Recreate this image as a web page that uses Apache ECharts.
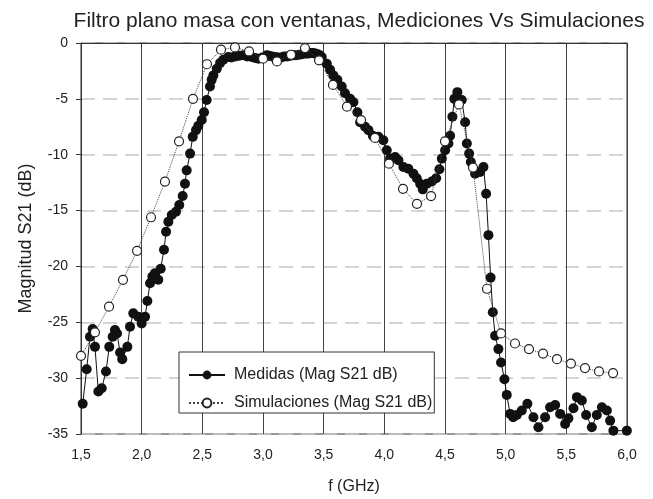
<!DOCTYPE html>
<html>
<head>
<meta charset="utf-8">
<script src="https://cdn.jsdelivr.net/npm/echarts@6/dist/echarts.min.js"></script>
<style>
  html, body { margin: 0; padding: 0; background: #fff; }
  #chart { width: 653px; height: 499px; }
</style>
</head>
<body>
<div id="chart"></div>
<script>
// medidas (filled markers), frequency in GHz
var medFreq = [1.514, 1.547, 1.574, 1.596, 1.615, 1.643, 1.671, 1.706, 1.733, 1.761,
  1.780, 1.797, 1.822, 1.840, 1.882, 1.904, 1.931, 1.972, 2.000, 2.028,
  2.047, 2.069, 2.088, 2.110, 2.137, 2.157, 2.184, 2.201, 2.220, 2.248,
  2.283, 2.310, 2.338, 2.357, 2.371, 2.399, 2.421, 2.448, 2.467, 2.495,
  2.514, 2.536, 2.563, 2.577, 2.591, 2.619, 2.646, 2.673, 2.714, 2.740,
  2.770, 2.800, 2.838, 2.870, 2.907, 2.935, 2.962, 2.995, 3.031, 3.050,
  3.075, 3.100, 3.124, 3.150, 3.174, 3.200, 3.223, 3.250, 3.272, 3.300,
  3.322, 3.350, 3.371, 3.393, 3.413, 3.432, 3.450, 3.468, 3.484, 3.526,
  3.553, 3.580, 3.613, 3.649, 3.676, 3.718, 3.745, 3.778, 3.800, 3.841,
  3.869, 3.905, 3.951, 3.992, 4.020, 4.047, 4.089, 4.116, 4.157, 4.198,
  4.240, 4.267, 4.295, 4.317, 4.350, 4.391, 4.427, 4.454, 4.474, 4.501,
  4.528, 4.542, 4.561, 4.577, 4.602, 4.638, 4.666, 4.680, 4.699, 4.713,
  4.748, 4.789, 4.817, 4.839, 4.858, 4.876, 4.894, 4.913, 4.940, 4.962,
  4.990, 5.009, 5.037, 5.062, 5.092, 5.133, 5.179, 5.229, 5.270, 5.325,
  5.366, 5.408, 5.449, 5.490, 5.517, 5.559, 5.587, 5.628, 5.663, 5.710,
  5.751, 5.793, 5.834, 5.861, 5.888, 5.999];
var medMag = [-32.3, -29.2, -26.3, -25.6, -27.2, -31.2, -30.9, -29.4, -27.2, -26.3,
  -25.7, -26.0, -27.7, -28.3, -27.2, -25.4, -24.2, -24.5, -25.1, -24.5,
  -23.1, -21.5, -20.9, -20.6, -21.2, -20.2, -18.5, -16.9, -16.0, -15.4,
  -15.1, -14.5, -13.7, -12.6, -11.4, -9.9, -8.4, -7.8, -7.4, -6.9,
  -6.2, -5.1, -3.9, -3.3, -2.9, -2.3, -1.8, -1.5, -1.25, -1.3,
  -1.2, -1.15, -1.1, -1.2, -1.25, -1.35, -1.4, -1.3, -1.1, -1.15,
  -1.2, -1.25, -1.3, -1.3, -1.2, -1.2, -1.15, -1.1, -1.1, -1.05,
  -1.0, -0.95, -0.95, -0.9, -0.9, -0.95, -1.0, -1.1, -1.25, -1.85,
  -2.4, -2.9, -3.3, -3.9, -4.5, -5.0, -5.3, -6.2, -7.1, -7.5,
  -7.8, -8.3, -8.4, -8.7, -9.6, -10.35, -10.2, -10.5, -11.1, -11.25,
  -11.7, -12.1, -12.6, -13.1, -12.6, -12.4, -12.1, -11.3, -10.35, -9.6,
  -9.0, -8.3, -6.6, -5.0, -4.4, -5.1, -7.1, -9.0, -9.9, -10.65,
  -11.7, -11.55, -11.1, -13.5, -17.2, -21.0, -24.1, -26.2, -27.4, -28.6,
  -30.1, -31.5, -33.2, -33.5, -33.3, -32.9, -32.3, -33.5, -34.4, -33.5,
  -32.6, -32.4, -33.2, -34.1, -33.6, -32.7, -31.7, -32.0, -33.3, -34.4,
  -33.3, -32.6, -32.9, -33.8, -34.7, -34.7];

// simulaciones (open markers)
var simFreq = [1.500, 1.615, 1.731, 1.846, 1.962, 2.077, 2.192, 2.308, 2.423, 2.538,
  2.654, 2.769, 2.885, 3.000, 3.115, 3.231, 3.346, 3.462, 3.577, 3.692,
  3.808, 3.923, 4.038, 4.154, 4.269, 4.385, 4.500, 4.615, 4.731, 4.846,
  4.962, 5.077, 5.192, 5.308, 5.423, 5.538, 5.654, 5.769, 5.885];
var simMag = [-28.0, -25.9, -23.6, -21.2, -18.6, -15.6, -12.4, -8.8, -5.0, -1.9,
  -0.6, -0.4, -0.75, -1.4, -1.65, -1.05, -0.45, -1.55, -3.75, -5.7,
  -6.9, -8.5, -10.8, -13.05, -14.4, -13.7, -8.8, -5.5, -11.15, -22.0,
  -26.0, -26.9, -27.4, -27.8, -28.3, -28.7, -29.1, -29.4, -29.55];

var seriesNames = ['Medidas (Mag S21 dB)', 'Simulaciones (Mag S21 dB)'];

function pairs(xs, ys) {
  return xs.map(function (x, i) { return [x, ys[i]] })
}

var font = 'Liberation Sans, Arial, sans-serif';
var chart = echarts.init(document.getElementById('chart'));

chart.setOption({
  animation: false,
  backgroundColor: '#fff',
  title: {
    text: 'Filtro plano masa con ventanas, Mediciones Vs Simulaciones',
    left: 354,
    textAlign: 'center',
    top: 6,
    textStyle: { fontFamily: font, fontSize: 21, fontWeight: 'normal', color: '#222' }
  },
  grid: {
    left: 81,
    right: 26,
    top: 43,
    bottom: 65,
    outerBoundsMode: 'none',
    show: true,
    borderColor: '#333',
    borderWidth: 1
  },
  legend: {
    orient: 'vertical',
    left: 179,
    top: 352,
    padding: [15, 2, 2, 9],
    itemGap: 12,
    itemWidth: 36,
    itemHeight: 11,
    backgroundColor: '#fff',
    borderColor: '#333',
    borderWidth: 1,
    borderRadius: 0,
    textStyle: { fontFamily: font, fontSize: 16, lineHeight: 16, color: '#222', padding: [0, 0, 0, 4] },
    data: seriesNames
  },
  xAxis: {
    type: 'value',
    min: 1.5,
    max: 6.0,
    interval: 0.5,
    name: 'f (GHz)',
    nameLocation: 'middle',
    nameGap: 45,
    nameTextStyle: { fontFamily: font, fontSize: 16, color: '#222' },
    axisLine: { lineStyle: { color: '#333' } },
    axisTick: { show: true, length: 5, lineStyle: { color: '#333' } },
    axisLabel: {
      fontFamily: font, fontSize: 14, color: '#222', margin: 14,
      formatter: function (v) { return v.toFixed(1).replace('.', ',') }
    },
    splitLine: { show: true, lineStyle: { color: '#444', width: 1 } }
  },
  yAxis: {
    type: 'value',
    min: -35,
    max: 0,
    interval: 5,
    name: 'Magnitud S21 (dB)',
    nameLocation: 'middle',
    nameGap: 46,
    nameTextStyle: { fontFamily: font, fontSize: 18, color: '#222' },
    axisLine: { show: true, lineStyle: { color: '#333' } },
    axisTick: { show: true, length: 5, lineStyle: { color: '#333' } },
    axisLabel: { fontFamily: font, fontSize: 14, color: '#222', margin: 13 },
    splitLine: { show: true, lineStyle: { color: '#c8c8c8', width: 1.5, type: [14, 8] } }
  },
  series: [{
    name: seriesNames[0],
    type: 'line',
    data: pairs(medFreq, medMag),
    symbol: 'circle',
    symbolSize: 10,
    itemStyle: { color: '#111', borderColor: '#111', borderWidth: 0 },
    lineStyle: { color: '#111', width: 1 },
    z: 3
  },
  {
    name: seriesNames[1],
    type: 'line',
    data: pairs(simFreq, simMag),
    symbol: 'circle',
    symbolSize: 9,
    itemStyle: { color: '#fff', borderColor: '#222', borderWidth: 1.2 },
    lineStyle: { color: '#444', width: 1, type: 'dotted' },
    z: 4
  }]
});
</script>
</body>
</html>
